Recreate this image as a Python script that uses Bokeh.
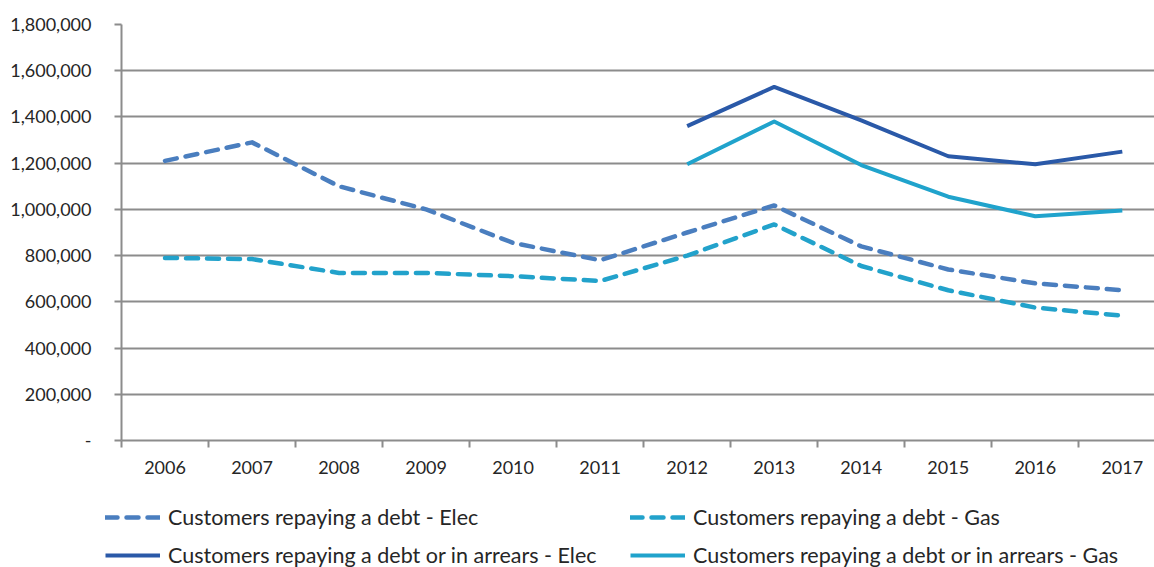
from bokeh.plotting import figure
from bokeh.layouts import column
from bokeh.models import (Range1d, FixedTicker, NumeralTickFormatter, Legend, LegendItem)
from bokeh.embed import file_html
from bokeh.resources import INLINE

years = [2006, 2007, 2008, 2009, 2010, 2011, 2012, 2013, 2014, 2015, 2016, 2017]
repay_elec = [1210000, 1290000, 1100000, 1000000, 855000, 780000, 900000, 1017000, 840000, 740000, 680000, 650000]
repay_gas = [790000, 785000, 725000, 725000, 711000, 690000, 800000, 935000, 755000, 650000, 575000, 540000]
years_arrears = [2012, 2013, 2014, 2015, 2016, 2017]
arrears_elec = [1360000, 1530000, 1385000, 1230000, 1195000, 1250000]
arrears_gas = [1195000, 1380000, 1192000, 1055000, 970000, 995000]
y_ticks = [0, 200000, 400000, 600000, 800000, 1000000, 1200000, 1400000, 1600000, 1800000]
labels = ["Customers repaying a debt - Elec", "Customers repaying a debt - Gas",
          "Customers repaying a debt or in arrears - Elec", "Customers repaying a debt or in arrears - Gas"]

FONT = "Lato"
TXT = "#262626"
GRID = "#8c8c8c"
styles = [
    dict(line_color="#4a7ebf", line_width=4.5, line_dash="12 9", line_cap="round", line_join="round"),
    dict(line_color="#22a2cb", line_width=4.5, line_dash="12 9", line_cap="round", line_join="round"),
    dict(line_color="#2a59a8", line_width=4, line_join="round"),
    dict(line_color="#20a3cc", line_width=4, line_join="round"),
]

p = figure(width=1154, height=482, min_border_left=121, min_border_right=0,
           min_border_top=24, min_border_bottom=42,
           x_range=Range1d(2005.5, 2017.37), y_range=Range1d(0, 1800000),
           output_backend="svg", toolbar_location=None)
p.outline_line_color = None
p.frame_align = False

p.line(years, repay_elec, **styles[0])
p.line(years, repay_gas, **styles[1])
p.line(years_arrears, arrears_elec, **styles[2])
p.line(years_arrears, arrears_gas, **styles[3])

# x axis
p.xaxis.ticker = FixedTicker(ticks=years, minor_ticks=[y + 0.5 for y in [2005] + years])
p.xaxis.major_tick_out = 0
p.xaxis.major_tick_in = 0
p.xaxis.minor_tick_out = 7
p.xaxis.minor_tick_in = 0
p.xaxis.minor_tick_line_color = GRID
p.xaxis.minor_tick_line_width = 2
p.xaxis.axis_line_color = GRID
p.xaxis.axis_line_width = 2
p.xaxis.major_label_standoff = 13
p.xaxis.major_label_text_font = FONT
p.xaxis.major_label_text_font_size = "18px"
p.xaxis.major_label_text_color = TXT

# y axis
p.yaxis.ticker = FixedTicker(ticks=y_ticks)
p.yaxis.formatter = NumeralTickFormatter(format="0,0")
p.yaxis.major_label_overrides = {0: "-"}
p.yaxis.major_tick_out = 7
p.yaxis.major_tick_in = 0
p.yaxis.minor_tick_out = 0
p.yaxis.minor_tick_in = 0
p.yaxis.major_tick_line_color = GRID
p.yaxis.major_tick_line_width = 2
p.yaxis.axis_line_color = GRID
p.yaxis.axis_line_width = 2
p.yaxis.major_label_standoff = 23
p.yaxis.major_label_text_font = FONT
p.yaxis.major_label_text_font_size = "18px"
p.yaxis.major_label_text_color = TXT

p.xgrid.grid_line_color = None
p.ygrid.ticker = FixedTicker(ticks=y_ticks)
p.ygrid.grid_line_color = GRID
p.ygrid.grid_line_width = 2

# legend strip below the chart
nan = float("nan")
pl = figure(width=1154, height=85, min_border=0, x_range=Range1d(0, 1), y_range=Range1d(0, 1),
            output_backend="svg", toolbar_location=None)
pl.frame_align = False
pl.axis.visible = False
pl.grid.visible = False
pl.outline_line_color = None
proxies = [pl.line([nan], [nan], **s) for s in styles]

order = [0, 2, 1, 3]  # column-major fill -> rows: debt (Elec, Gas), arrears (Elec, Gas)
legend = Legend(items=[LegendItem(label=labels[i], renderers=[proxies[i]]) for i in order],
                ncols=2, location=(105, -1), padding=0, margin=0,
                border_line_color=None, background_fill_alpha=0,
                glyph_width=55, glyph_height=26, label_standoff=8,
                label_width=450, spacing=12,
                label_text_font=FONT, label_text_font_size="21.5px", label_text_color=TXT)
pl.add_layout(legend, "center")

layout = column(p, pl, spacing=0)
open("out.html", "w").write(file_html(layout, INLINE))
